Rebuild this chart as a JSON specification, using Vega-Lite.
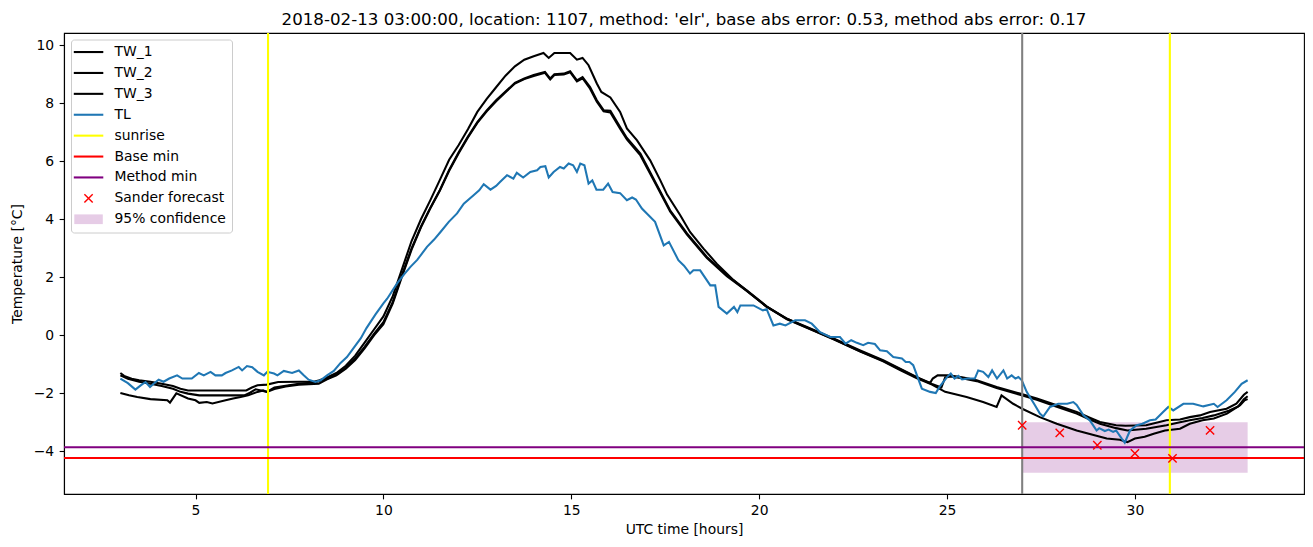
{
"$schema": "https://vega.github.io/schema/vega-lite/v6.json",
"autosize": {"type": "none"},
"width": 1240, "height": 461,
"padding": {"left": 64, "top": 33, "right": 9, "bottom": 53},
"title": {"text": "2018-02-13 03:00:00, location: 1107, method: 'elr', base abs error: 0.53, method abs error: 0.17", "fontSize": 16.67, "font": "DejaVu Sans", "fontWeight": "normal", "color": "black", "offset": 3, "anchor": "middle"},
"config": {
  "font": "DejaVu Sans",
  "view": {"stroke": "black", "strokeWidth": 1.1},
  "axis": {"labelFont": "DejaVu Sans", "labelFontSize": 13.9, "labelColor": "black", "titleFont": "DejaVu Sans", "titleFontSize": 13.9, "titleFontWeight": "normal", "titleColor": "black", "domainColor": "black", "domainWidth": 1.1, "tickColor": "black", "tickWidth": 1.1, "tickSize": 4.86, "grid": false}
},
"datasets": {
"tw": [
{"s":"TW_1","t":3.0,"v":-1.3},{"s":"TW_1","t":3.1,"v":-1.4},{"s":"TW_1","t":3.3,"v":-1.5},{"s":"TW_1","t":3.5,"v":-1.55},{"s":"TW_1","t":3.8,"v":-1.6},{"s":"TW_1","t":4.1,"v":-1.67},{"s":"TW_1","t":4.4,"v":-1.75},{"s":"TW_1","t":4.6,"v":-1.84},{"s":"TW_1","t":4.8,"v":-1.9},{"s":"TW_1","t":5.5,"v":-1.9},{"s":"TW_1","t":6.35,"v":-1.9},{"s":"TW_1","t":6.5,"v":-1.8},{"s":"TW_1","t":6.65,"v":-1.72},{"s":"TW_1","t":6.9,"v":-1.7},{"s":"TW_1","t":7.2,"v":-1.61},{"s":"TW_1","t":7.8,"v":-1.6},{"s":"TW_1","t":8.15,"v":-1.6},{"s":"TW_1","t":8.3,"v":-1.55},{"s":"TW_1","t":8.5,"v":-1.45},{"s":"TW_1","t":8.75,"v":-1.3},{"s":"TW_1","t":9.0,"v":-1.05},{"s":"TW_1","t":9.25,"v":-0.7},{"s":"TW_1","t":9.5,"v":-0.25},{"s":"TW_1","t":9.75,"v":0.2},{"s":"TW_1","t":10.0,"v":0.65},{"s":"TW_1","t":10.25,"v":1.35},{"s":"TW_1","t":10.5,"v":2.3},{"s":"TW_1","t":10.75,"v":3.25},{"s":"TW_1","t":11.0,"v":4.0},{"s":"TW_1","t":11.25,"v":4.66},{"s":"TW_1","t":11.5,"v":5.35},{"s":"TW_1","t":11.75,"v":6.05},{"s":"TW_1","t":12.0,"v":6.55},{"s":"TW_1","t":12.25,"v":7.1},{"s":"TW_1","t":12.5,"v":7.7},{"s":"TW_1","t":12.75,"v":8.15},{"s":"TW_1","t":13.0,"v":8.55},{"s":"TW_1","t":13.25,"v":8.95},{"s":"TW_1","t":13.5,"v":9.27},{"s":"TW_1","t":13.75,"v":9.5},{"s":"TW_1","t":14.0,"v":9.62},{"s":"TW_1","t":14.26,"v":9.73},{"s":"TW_1","t":14.4,"v":9.56},{"s":"TW_1","t":14.55,"v":9.73},{"s":"TW_1","t":14.97,"v":9.73},{"s":"TW_1","t":15.15,"v":9.5},{"s":"TW_1","t":15.3,"v":9.56},{"s":"TW_1","t":15.46,"v":9.31},{"s":"TW_1","t":15.68,"v":8.68},{"s":"TW_1","t":15.8,"v":8.39},{"s":"TW_1","t":16.04,"v":8.2},{"s":"TW_1","t":16.3,"v":7.7},{"s":"TW_1","t":16.48,"v":7.13},{"s":"TW_1","t":16.75,"v":6.72},{"s":"TW_1","t":17.1,"v":6.03},{"s":"TW_1","t":17.37,"v":5.34},{"s":"TW_1","t":17.55,"v":4.85},{"s":"TW_1","t":17.9,"v":4.14},{"s":"TW_1","t":18.16,"v":3.56},{"s":"TW_1","t":18.52,"v":2.99},{"s":"TW_1","t":18.87,"v":2.47},{"s":"TW_1","t":19.32,"v":1.9},{"s":"TW_1","t":19.76,"v":1.44},{"s":"TW_1","t":20.2,"v":0.98},{"s":"TW_1","t":20.74,"v":0.57},{"s":"TW_1","t":21.27,"v":0.29},{"s":"TW_1","t":21.98,"v":-0.11},{"s":"TW_1","t":22.69,"v":-0.52},{"s":"TW_1","t":23.3,"v":-0.86},{"s":"TW_1","t":23.75,"v":-1.15},{"s":"TW_1","t":24.2,"v":-1.44},{"s":"TW_1","t":24.55,"v":-1.64},{"s":"TW_1","t":24.62,"v":-1.49},{"s":"TW_1","t":24.75,"v":-1.38},{"s":"TW_1","t":25.05,"v":-1.38},{"s":"TW_1","t":25.4,"v":-1.45},{"s":"TW_1","t":25.79,"v":-1.55},{"s":"TW_1","t":26.32,"v":-1.78},{"s":"TW_1","t":26.94,"v":-2.01},{"s":"TW_1","t":27.39,"v":-2.18},{"s":"TW_1","t":27.92,"v":-2.41},{"s":"TW_1","t":28.45,"v":-2.64},{"s":"TW_1","t":28.8,"v":-2.84},{"s":"TW_1","t":29.07,"v":-2.99},{"s":"TW_1","t":29.5,"v":-3.1},{"s":"TW_1","t":29.75,"v":-3.12},{"s":"TW_1","t":30.3,"v":-3.1},{"s":"TW_1","t":30.84,"v":-2.93},{"s":"TW_1","t":31.2,"v":-2.9},{"s":"TW_1","t":31.46,"v":-2.82},{"s":"TW_1","t":31.73,"v":-2.76},{"s":"TW_1","t":32.0,"v":-2.64},{"s":"TW_1","t":32.44,"v":-2.53},{"s":"TW_1","t":32.7,"v":-2.36},{"s":"TW_1","t":32.9,"v":-2.05},{"s":"TW_1","t":33.0,"v":-1.95},
{"s":"TW_2","t":3.0,"v":-1.38},{"s":"TW_2","t":3.2,"v":-1.5},{"s":"TW_2","t":3.5,"v":-1.6},{"s":"TW_2","t":3.8,"v":-1.67},{"s":"TW_2","t":4.1,"v":-1.75},{"s":"TW_2","t":4.4,"v":-1.84},{"s":"TW_2","t":4.6,"v":-1.95},{"s":"TW_2","t":4.8,"v":-2.01},{"s":"TW_2","t":5.1,"v":-2.07},{"s":"TW_2","t":6.3,"v":-2.07},{"s":"TW_2","t":6.45,"v":-1.98},{"s":"TW_2","t":6.6,"v":-1.86},{"s":"TW_2","t":6.9,"v":-1.95},{"s":"TW_2","t":7.1,"v":-1.8},{"s":"TW_2","t":7.4,"v":-1.74},{"s":"TW_2","t":7.75,"v":-1.67},{"s":"TW_2","t":8.2,"v":-1.62},{"s":"TW_2","t":8.5,"v":-1.5},{"s":"TW_2","t":8.75,"v":-1.35},{"s":"TW_2","t":9.0,"v":-1.12},{"s":"TW_2","t":9.25,"v":-0.8},{"s":"TW_2","t":9.5,"v":-0.4},{"s":"TW_2","t":9.75,"v":0.05},{"s":"TW_2","t":10.0,"v":0.45},{"s":"TW_2","t":10.25,"v":1.15},{"s":"TW_2","t":10.5,"v":2.1},{"s":"TW_2","t":10.75,"v":3.0},{"s":"TW_2","t":11.0,"v":3.75},{"s":"TW_2","t":11.25,"v":4.4},{"s":"TW_2","t":11.5,"v":5.0},{"s":"TW_2","t":11.75,"v":5.7},{"s":"TW_2","t":12.0,"v":6.3},{"s":"TW_2","t":12.25,"v":6.85},{"s":"TW_2","t":12.5,"v":7.35},{"s":"TW_2","t":12.75,"v":7.75},{"s":"TW_2","t":13.0,"v":8.1},{"s":"TW_2","t":13.25,"v":8.4},{"s":"TW_2","t":13.5,"v":8.7},{"s":"TW_2","t":13.75,"v":8.85},{"s":"TW_2","t":14.0,"v":8.97},{"s":"TW_2","t":14.3,"v":9.08},{"s":"TW_2","t":14.44,"v":8.85},{"s":"TW_2","t":14.55,"v":9.0},{"s":"TW_2","t":14.8,"v":9.02},{"s":"TW_2","t":14.97,"v":9.1},{"s":"TW_2","t":15.15,"v":8.79},{"s":"TW_2","t":15.3,"v":8.9},{"s":"TW_2","t":15.5,"v":8.56},{"s":"TW_2","t":15.68,"v":8.1},{"s":"TW_2","t":15.86,"v":7.76},{"s":"TW_2","t":16.04,"v":7.74},{"s":"TW_2","t":16.3,"v":7.18},{"s":"TW_2","t":16.48,"v":6.8},{"s":"TW_2","t":16.84,"v":6.26},{"s":"TW_2","t":17.19,"v":5.4},{"s":"TW_2","t":17.63,"v":4.31},{"s":"TW_2","t":18.08,"v":3.51},{"s":"TW_2","t":18.61,"v":2.7},{"s":"TW_2","t":19.14,"v":2.07},{"s":"TW_2","t":19.67,"v":1.55},{"s":"TW_2","t":20.2,"v":1.0},{"s":"TW_2","t":20.74,"v":0.57},{"s":"TW_2","t":21.27,"v":0.27},{"s":"TW_2","t":21.98,"v":-0.13},{"s":"TW_2","t":22.69,"v":-0.55},{"s":"TW_2","t":23.3,"v":-0.88},{"s":"TW_2","t":23.75,"v":-1.17},{"s":"TW_2","t":24.2,"v":-1.46},{"s":"TW_2","t":24.6,"v":-1.68},{"s":"TW_2","t":24.85,"v":-1.8},{"s":"TW_2","t":24.95,"v":-1.45},{"s":"TW_2","t":25.1,"v":-1.42},{"s":"TW_2","t":25.4,"v":-1.48},{"s":"TW_2","t":25.79,"v":-1.58},{"s":"TW_2","t":26.32,"v":-1.82},{"s":"TW_2","t":26.94,"v":-2.05},{"s":"TW_2","t":27.39,"v":-2.22},{"s":"TW_2","t":27.92,"v":-2.46},{"s":"TW_2","t":28.45,"v":-2.7},{"s":"TW_2","t":28.8,"v":-2.9},{"s":"TW_2","t":29.07,"v":-3.05},{"s":"TW_2","t":29.5,"v":-3.2},{"s":"TW_2","t":29.8,"v":-3.28},{"s":"TW_2","t":30.3,"v":-3.22},{"s":"TW_2","t":30.84,"v":-3.1},{"s":"TW_2","t":31.2,"v":-3.0},{"s":"TW_2","t":31.46,"v":-2.93},{"s":"TW_2","t":31.8,"v":-2.85},{"s":"TW_2","t":32.1,"v":-2.76},{"s":"TW_2","t":32.5,"v":-2.6},{"s":"TW_2","t":32.75,"v":-2.45},{"s":"TW_2","t":32.9,"v":-2.2},{"s":"TW_2","t":33.0,"v":-2.1},
{"s":"TW_3","t":3.0,"v":-1.99},{"s":"TW_3","t":3.23,"v":-2.07},{"s":"TW_3","t":3.45,"v":-2.13},{"s":"TW_3","t":3.8,"v":-2.2},{"s":"TW_3","t":4.25,"v":-2.24},{"s":"TW_3","t":4.32,"v":-2.32},{"s":"TW_3","t":4.49,"v":-2.0},{"s":"TW_3","t":4.8,"v":-2.18},{"s":"TW_3","t":5.0,"v":-2.24},{"s":"TW_3","t":5.1,"v":-2.33},{"s":"TW_3","t":5.3,"v":-2.3},{"s":"TW_3","t":5.45,"v":-2.35},{"s":"TW_3","t":5.8,"v":-2.24},{"s":"TW_3","t":6.0,"v":-2.18},{"s":"TW_3","t":6.2,"v":-2.13},{"s":"TW_3","t":6.4,"v":-2.07},{"s":"TW_3","t":6.65,"v":-1.95},{"s":"TW_3","t":6.8,"v":-1.9},{"s":"TW_3","t":6.9,"v":-1.95},{"s":"TW_3","t":7.1,"v":-1.85},{"s":"TW_3","t":7.4,"v":-1.76},{"s":"TW_3","t":7.75,"v":-1.7},{"s":"TW_3","t":8.28,"v":-1.67},{"s":"TW_3","t":8.5,"v":-1.52},{"s":"TW_3","t":8.75,"v":-1.38},{"s":"TW_3","t":9.0,"v":-1.15},{"s":"TW_3","t":9.25,"v":-0.85},{"s":"TW_3","t":9.5,"v":-0.45},{"s":"TW_3","t":9.75,"v":0.0},{"s":"TW_3","t":10.0,"v":0.38},{"s":"TW_3","t":10.25,"v":1.1},{"s":"TW_3","t":10.5,"v":2.05},{"s":"TW_3","t":10.75,"v":2.95},{"s":"TW_3","t":11.0,"v":3.72},{"s":"TW_3","t":11.25,"v":4.38},{"s":"TW_3","t":11.5,"v":4.98},{"s":"TW_3","t":11.75,"v":5.67},{"s":"TW_3","t":12.0,"v":6.27},{"s":"TW_3","t":12.25,"v":6.82},{"s":"TW_3","t":12.5,"v":7.32},{"s":"TW_3","t":12.75,"v":7.72},{"s":"TW_3","t":13.0,"v":8.07},{"s":"TW_3","t":13.25,"v":8.38},{"s":"TW_3","t":13.5,"v":8.68},{"s":"TW_3","t":13.75,"v":8.83},{"s":"TW_3","t":14.0,"v":8.94},{"s":"TW_3","t":14.3,"v":9.05},{"s":"TW_3","t":14.44,"v":8.82},{"s":"TW_3","t":14.55,"v":8.97},{"s":"TW_3","t":14.8,"v":8.99},{"s":"TW_3","t":14.97,"v":9.07},{"s":"TW_3","t":15.15,"v":8.75},{"s":"TW_3","t":15.3,"v":8.86},{"s":"TW_3","t":15.5,"v":8.5},{"s":"TW_3","t":15.68,"v":8.05},{"s":"TW_3","t":15.86,"v":7.72},{"s":"TW_3","t":16.04,"v":7.68},{"s":"TW_3","t":16.3,"v":7.12},{"s":"TW_3","t":16.48,"v":6.75},{"s":"TW_3","t":16.84,"v":6.2},{"s":"TW_3","t":17.19,"v":5.35},{"s":"TW_3","t":17.63,"v":4.27},{"s":"TW_3","t":18.08,"v":3.47},{"s":"TW_3","t":18.61,"v":2.66},{"s":"TW_3","t":19.14,"v":2.04},{"s":"TW_3","t":19.67,"v":1.53},{"s":"TW_3","t":20.2,"v":0.99},{"s":"TW_3","t":20.74,"v":0.55},{"s":"TW_3","t":21.27,"v":0.26},{"s":"TW_3","t":21.98,"v":-0.14},{"s":"TW_3","t":22.69,"v":-0.56},{"s":"TW_3","t":23.3,"v":-0.9},{"s":"TW_3","t":23.75,"v":-1.2},{"s":"TW_3","t":24.2,"v":-1.48},{"s":"TW_3","t":24.6,"v":-1.7},{"s":"TW_3","t":24.95,"v":-1.95},{"s":"TW_3","t":25.52,"v":-2.13},{"s":"TW_3","t":25.96,"v":-2.3},{"s":"TW_3","t":26.32,"v":-2.47},{"s":"TW_3","t":26.45,"v":-2.07},{"s":"TW_3","t":26.76,"v":-2.36},{"s":"TW_3","t":27.0,"v":-2.53},{"s":"TW_3","t":27.47,"v":-2.82},{"s":"TW_3","t":27.92,"v":-3.05},{"s":"TW_3","t":28.45,"v":-3.28},{"s":"TW_3","t":28.95,"v":-3.45},{"s":"TW_3","t":29.25,"v":-3.56},{"s":"TW_3","t":29.6,"v":-3.6},{"s":"TW_3","t":29.8,"v":-3.68},{"s":"TW_3","t":30.0,"v":-3.56},{"s":"TW_3","t":30.26,"v":-3.5},{"s":"TW_3","t":30.5,"v":-3.39},{"s":"TW_3","t":30.8,"v":-3.28},{"s":"TW_3","t":31.2,"v":-3.22},{"s":"TW_3","t":31.46,"v":-3.05},{"s":"TW_3","t":31.8,"v":-2.93},{"s":"TW_3","t":32.1,"v":-2.87},{"s":"TW_3","t":32.45,"v":-2.7},{"s":"TW_3","t":32.8,"v":-2.41},{"s":"TW_3","t":32.92,"v":-2.24},{"s":"TW_3","t":33.0,"v":-2.2}
],
"tl": [
{"s":"TL","t":3.0,"v":-1.49},{"s":"TL","t":3.2,"v":-1.65},{"s":"TL","t":3.4,"v":-1.87},{"s":"TL","t":3.55,"v":-1.72},{"s":"TL","t":3.67,"v":-1.61},{"s":"TL","t":3.79,"v":-1.78},{"s":"TL","t":3.9,"v":-1.65},{"s":"TL","t":4.02,"v":-1.53},{"s":"TL","t":4.15,"v":-1.6},{"s":"TL","t":4.3,"v":-1.49},{"s":"TL","t":4.51,"v":-1.38},{"s":"TL","t":4.65,"v":-1.49},{"s":"TL","t":4.9,"v":-1.49},{"s":"TL","t":5.09,"v":-1.3},{"s":"TL","t":5.22,"v":-1.38},{"s":"TL","t":5.4,"v":-1.26},{"s":"TL","t":5.53,"v":-1.38},{"s":"TL","t":5.7,"v":-1.38},{"s":"TL","t":5.8,"v":-1.3},{"s":"TL","t":5.97,"v":-1.21},{"s":"TL","t":6.15,"v":-1.09},{"s":"TL","t":6.24,"v":-1.21},{"s":"TL","t":6.37,"v":-1.06},{"s":"TL","t":6.51,"v":-1.1},{"s":"TL","t":6.65,"v":-1.26},{"s":"TL","t":6.82,"v":-1.38},{"s":"TL","t":6.91,"v":-1.26},{"s":"TL","t":7.09,"v":-1.32},{"s":"TL","t":7.18,"v":-1.38},{"s":"TL","t":7.35,"v":-1.23},{"s":"TL","t":7.57,"v":-1.3},{"s":"TL","t":7.75,"v":-1.21},{"s":"TL","t":7.88,"v":-1.38},{"s":"TL","t":8.01,"v":-1.53},{"s":"TL","t":8.19,"v":-1.61},{"s":"TL","t":8.33,"v":-1.55},{"s":"TL","t":8.5,"v":-1.38},{"s":"TL","t":8.68,"v":-1.23},{"s":"TL","t":8.86,"v":-0.95},{"s":"TL","t":9.03,"v":-0.75},{"s":"TL","t":9.2,"v":-0.45},{"s":"TL","t":9.4,"v":-0.1},{"s":"TL","t":9.55,"v":0.25},{"s":"TL","t":9.79,"v":0.72},{"s":"TL","t":10.0,"v":1.1},{"s":"TL","t":10.1,"v":1.26},{"s":"TL","t":10.36,"v":1.78},{"s":"TL","t":10.55,"v":2.1},{"s":"TL","t":10.72,"v":2.36},{"s":"TL","t":10.9,"v":2.6},{"s":"TL","t":11.03,"v":2.82},{"s":"TL","t":11.16,"v":3.05},{"s":"TL","t":11.35,"v":3.3},{"s":"TL","t":11.52,"v":3.56},{"s":"TL","t":11.74,"v":3.91},{"s":"TL","t":11.96,"v":4.2},{"s":"TL","t":12.14,"v":4.54},{"s":"TL","t":12.4,"v":4.83},{"s":"TL","t":12.55,"v":5.0},{"s":"TL","t":12.67,"v":5.21},{"s":"TL","t":12.85,"v":5.02},{"s":"TL","t":13.0,"v":5.15},{"s":"TL","t":13.11,"v":5.29},{"s":"TL","t":13.29,"v":5.52},{"s":"TL","t":13.46,"v":5.4},{"s":"TL","t":13.55,"v":5.6},{"s":"TL","t":13.72,"v":5.44},{"s":"TL","t":13.91,"v":5.63},{"s":"TL","t":14.09,"v":5.69},{"s":"TL","t":14.18,"v":5.8},{"s":"TL","t":14.31,"v":5.83},{"s":"TL","t":14.4,"v":5.44},{"s":"TL","t":14.53,"v":5.63},{"s":"TL","t":14.7,"v":5.8},{"s":"TL","t":14.8,"v":5.75},{"s":"TL","t":14.93,"v":5.92},{"s":"TL","t":15.05,"v":5.86},{"s":"TL","t":15.15,"v":5.63},{"s":"TL","t":15.24,"v":5.92},{"s":"TL","t":15.35,"v":5.86},{"s":"TL","t":15.46,"v":5.23},{"s":"TL","t":15.56,"v":5.34},{"s":"TL","t":15.67,"v":5.02},{"s":"TL","t":15.85,"v":5.02},{"s":"TL","t":15.98,"v":5.23},{"s":"TL","t":16.1,"v":4.94},{"s":"TL","t":16.3,"v":4.9},{"s":"TL","t":16.48,"v":4.66},{"s":"TL","t":16.62,"v":4.75},{"s":"TL","t":16.72,"v":4.68},{"s":"TL","t":16.88,"v":4.37},{"s":"TL","t":17.05,"v":4.15},{"s":"TL","t":17.23,"v":3.91},{"s":"TL","t":17.46,"v":3.1},{"s":"TL","t":17.6,"v":3.22},{"s":"TL","t":17.85,"v":2.59},{"s":"TL","t":18.0,"v":2.4},{"s":"TL","t":18.16,"v":2.13},{"s":"TL","t":18.25,"v":2.24},{"s":"TL","t":18.43,"v":2.24},{"s":"TL","t":18.7,"v":1.72},{"s":"TL","t":18.83,"v":1.72},{"s":"TL","t":18.92,"v":0.98},{"s":"TL","t":19.14,"v":0.75},{"s":"TL","t":19.33,"v":0.98},{"s":"TL","t":19.42,"v":0.8},{"s":"TL","t":19.5,"v":1.03},{"s":"TL","t":19.85,"v":1.03},{"s":"TL","t":20.1,"v":0.86},{"s":"TL","t":20.2,"v":0.9},{"s":"TL","t":20.38,"v":0.34},{"s":"TL","t":20.55,"v":0.4},{"s":"TL","t":20.7,"v":0.34},{"s":"TL","t":20.96,"v":0.52},{"s":"TL","t":21.22,"v":0.52},{"s":"TL","t":21.4,"v":0.4},{"s":"TL","t":21.62,"v":0.11},{"s":"TL","t":21.89,"v":-0.06},{"s":"TL","t":22.15,"v":-0.06},{"s":"TL","t":22.3,"v":-0.29},{"s":"TL","t":22.45,"v":-0.17},{"s":"TL","t":22.6,"v":-0.26},{"s":"TL","t":22.77,"v":-0.34},{"s":"TL","t":22.9,"v":-0.26},{"s":"TL","t":23.08,"v":-0.3},{"s":"TL","t":23.22,"v":-0.52},{"s":"TL","t":23.4,"v":-0.55},{"s":"TL","t":23.57,"v":-0.75},{"s":"TL","t":23.8,"v":-0.8},{"s":"TL","t":23.9,"v":-0.92},{"s":"TL","t":24.0,"v":-0.92},{"s":"TL","t":24.1,"v":-1.03},{"s":"TL","t":24.33,"v":-1.84},{"s":"TL","t":24.55,"v":-1.95},{"s":"TL","t":24.7,"v":-1.99},{"s":"TL","t":24.8,"v":-1.78},{"s":"TL","t":25.0,"v":-1.44},{"s":"TL","t":25.1,"v":-1.32},{"s":"TL","t":25.2,"v":-1.49},{"s":"TL","t":25.3,"v":-1.4},{"s":"TL","t":25.4,"v":-1.52},{"s":"TL","t":25.55,"v":-1.49},{"s":"TL","t":25.74,"v":-1.49},{"s":"TL","t":25.83,"v":-1.21},{"s":"TL","t":25.96,"v":-1.26},{"s":"TL","t":26.1,"v":-1.44},{"s":"TL","t":26.2,"v":-1.21},{"s":"TL","t":26.33,"v":-1.49},{"s":"TL","t":26.5,"v":-1.21},{"s":"TL","t":26.6,"v":-1.49},{"s":"TL","t":26.72,"v":-1.38},{"s":"TL","t":26.82,"v":-1.49},{"s":"TL","t":26.9,"v":-1.44},{"s":"TL","t":26.99,"v":-1.55},{"s":"TL","t":27.12,"v":-1.95},{"s":"TL","t":27.34,"v":-2.41},{"s":"TL","t":27.47,"v":-2.7},{"s":"TL","t":27.56,"v":-2.8},{"s":"TL","t":27.74,"v":-2.47},{"s":"TL","t":27.96,"v":-2.36},{"s":"TL","t":28.2,"v":-2.36},{"s":"TL","t":28.36,"v":-2.3},{"s":"TL","t":28.45,"v":-2.4},{"s":"TL","t":28.63,"v":-2.76},{"s":"TL","t":28.8,"v":-2.93},{"s":"TL","t":28.98,"v":-3.28},{"s":"TL","t":29.05,"v":-3.2},{"s":"TL","t":29.2,"v":-3.3},{"s":"TL","t":29.3,"v":-3.25},{"s":"TL","t":29.42,"v":-3.33},{"s":"TL","t":29.5,"v":-3.28},{"s":"TL","t":29.65,"v":-3.56},{"s":"TL","t":29.73,"v":-3.7},{"s":"TL","t":29.87,"v":-3.28},{"s":"TL","t":30.05,"v":-3.1},{"s":"TL","t":30.2,"v":-3.05},{"s":"TL","t":30.4,"v":-2.93},{"s":"TL","t":30.55,"v":-2.9},{"s":"TL","t":30.75,"v":-2.64},{"s":"TL","t":30.89,"v":-2.47},{"s":"TL","t":31.02,"v":-2.59},{"s":"TL","t":31.29,"v":-2.36},{"s":"TL","t":31.55,"v":-2.36},{"s":"TL","t":31.82,"v":-2.45},{"s":"TL","t":32.1,"v":-2.36},{"s":"TL","t":32.2,"v":-2.47},{"s":"TL","t":32.44,"v":-2.24},{"s":"TL","t":32.66,"v":-1.95},{"s":"TL","t":32.84,"v":-1.67},{"s":"TL","t":33.0,"v":-1.55}
],
"sunrise": [{"s":"sunrise","t":6.93},{"s":"sunrise","t":30.93}],
"now": [{"t":27.0}],
"mins": [{"s":"Base min","v":-4.23},{"s":"Method min","v":-3.86}],
"band": [{"s":"95% confidence","t":27.0,"t2":33.0,"lo":-4.74,"hi":-3.0}],
"sander": [{"s":"Sander forecast","t":27,"v":-3.1},{"s":"Sander forecast","t":28,"v":-3.36},{"s":"Sander forecast","t":29,"v":-3.79},{"s":"Sander forecast","t":30,"v":-4.07},{"s":"Sander forecast","t":31,"v":-4.24},{"s":"Sander forecast","t":32,"v":-3.28}]
},
"layer": [
  {"data": {"name": "band"}, "mark": {"type": "rect"},
   "encoding": {
     "x": {"field": "t", "type": "quantitative", "scale": {"domain": [1.5, 34.5], "nice": false, "zero": false}, "axis": {"values": [5,10,15,20,25,30], "format": "d", "title": "UTC time [hours]", "titlePadding": 5, "labelPadding": 4.86}},
     "x2": {"field": "t2"},
     "y": {"field": "lo", "type": "quantitative", "scale": {"domain": [-5.47, 10.42], "nice": false, "zero": false}, "axis": {"values": [-4,-2,0,2,4,6,8,10], "format": "d", "title": "Temperature [°C]", "titlePadding": 9, "labelPadding": 5.5}},
     "y2": {"field": "hi"},
     "color": {"field": "s", "type": "nominal",
       "scale": {"domain": ["TW_1","TW_2","TW_3","TL","sunrise","Base min","Method min","Sander forecast","95% confidence"], "range": ["black","black","black","#1f77b4","#ffff00","#ff0000","#800080","#ff0000","#e6cce6"]},
       "legend": {"title": null, "orient": "none", "legendX": 7, "legendY": 6.5, "padding": 5.6, "rowPadding": 5.9, "symbolSize": 100, "symbolStrokeWidth": 2, "symbolOffset": 5, "labelOffset": 19, "labelFont": "DejaVu Sans", "labelFontSize": 13.9, "labelColor": "black", "fillColor": "rgba(255,255,255,0.8)", "strokeColor": "#cccccc", "cornerRadius": 3,
         "encode": {"symbols": {"update": {
           "shape": {"signal": "datum.value === 'Sander forecast' ? 'M-0.83,-0.83L0.83,0.83M-0.83,0.83L0.83,-0.83' : (datum.value === '95% confidence' ? 'M-2.85,-0.97H2.85V0.97H-2.85Z' : 'M-2.95,0H2.95')"},
           "fill": {"signal": "datum.value === '95% confidence' ? '#e6cce6' : 'transparent'"},
           "stroke": {"signal": "scale('color', datum.value)"},
           "strokeWidth": {"signal": "datum.value === 'Sander forecast' ? 1.4 : (datum.value === '95% confidence' ? 0 : 2.08)"},
           "opacity": {"value": 1}
         }}}
       }
     }
   }
  },
  {"data": {"name": "tw"}, "mark": {"type": "line", "strokeWidth": 2.08}, "encoding": {"x": {"field": "t", "type": "quantitative"}, "y": {"field": "v", "type": "quantitative"}, "color": {"field": "s", "type": "nominal"}}},
  {"data": {"name": "tl"}, "mark": {"type": "line", "strokeWidth": 2.08}, "encoding": {"x": {"field": "t", "type": "quantitative"}, "y": {"field": "v", "type": "quantitative"}, "color": {"field": "s", "type": "nominal"}}},
  {"data": {"name": "now"}, "mark": {"type": "rule", "color": "#808080", "strokeWidth": 2.08}, "encoding": {"x": {"field": "t", "type": "quantitative"}}},
  {"data": {"name": "sunrise"}, "mark": {"type": "rule", "strokeWidth": 2.08}, "encoding": {"x": {"field": "t", "type": "quantitative"}, "color": {"field": "s", "type": "nominal"}}},
  {"data": {"name": "mins"}, "mark": {"type": "rule", "strokeWidth": 2.08}, "encoding": {"y": {"field": "v", "type": "quantitative"}, "color": {"field": "s", "type": "nominal"}}},
  {"data": {"name": "sander"}, "mark": {"type": "point", "shape": "M-1,-1L1,1M-1,1L1,-1", "filled": false, "size": 69, "strokeWidth": 1.4, "opacity": 1}, "encoding": {"x": {"field": "t", "type": "quantitative"}, "y": {"field": "v", "type": "quantitative"}, "color": {"field": "s", "type": "nominal"}}}
]
}
